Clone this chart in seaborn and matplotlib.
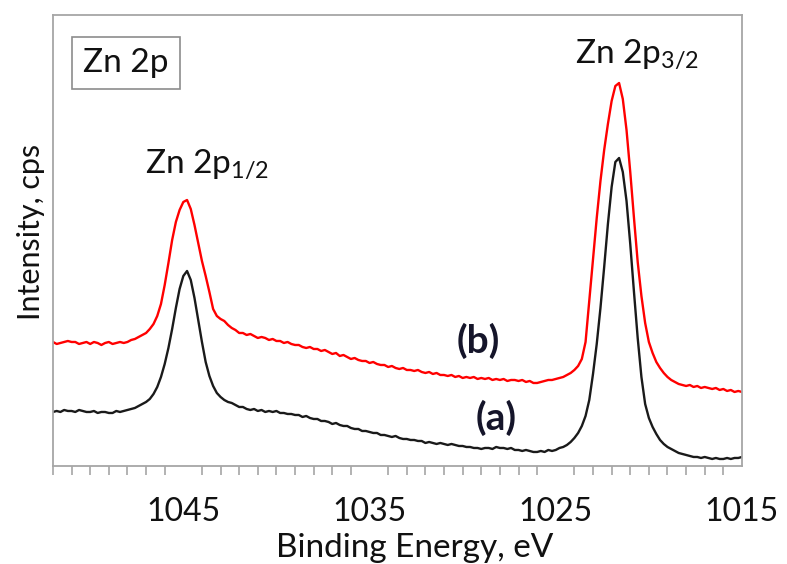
import matplotlib
matplotlib.use("Agg")
import matplotlib.pyplot as plt
from matplotlib.ticker import MultipleLocator
import pandas as pd
import seaborn as sns

# Binding energy scale of the Zn 2p region (eV), 0.2 eV steps
binding_energy = [
    1052.0, 1051.8, 1051.6, 1051.4, 1051.2, 1051.0, 1050.8, 1050.6, 1050.4, 1050.2,
    1050.0, 1049.8, 1049.6, 1049.4, 1049.2, 1049.0, 1048.8, 1048.6, 1048.4, 1048.2,
    1048.0, 1047.8, 1047.6, 1047.4, 1047.2, 1047.0, 1046.8, 1046.6, 1046.4, 1046.2,
    1046.0, 1045.8, 1045.6, 1045.4, 1045.2, 1045.0, 1044.8, 1044.6, 1044.4, 1044.2,
    1044.0, 1043.8, 1043.6, 1043.4, 1043.2, 1043.0, 1042.8, 1042.6, 1042.4, 1042.2,
    1042.0, 1041.8, 1041.6, 1041.4, 1041.2, 1041.0, 1040.8, 1040.6, 1040.4, 1040.2,
    1040.0, 1039.8, 1039.6, 1039.4, 1039.2, 1039.0, 1038.8, 1038.6, 1038.4, 1038.2,
    1038.0, 1037.8, 1037.6, 1037.4, 1037.2, 1037.0, 1036.8, 1036.6, 1036.4, 1036.2,
    1036.0, 1035.8, 1035.6, 1035.4, 1035.2, 1035.0, 1034.8, 1034.6, 1034.4, 1034.2,
    1034.0, 1033.8, 1033.6, 1033.4, 1033.2, 1033.0, 1032.8, 1032.6, 1032.4, 1032.2,
    1032.0, 1031.8, 1031.6, 1031.4, 1031.2, 1031.0, 1030.8, 1030.6, 1030.4, 1030.2,
    1030.0, 1029.8, 1029.6, 1029.4, 1029.2, 1029.0, 1028.8, 1028.6, 1028.4, 1028.2,
    1028.0, 1027.8, 1027.6, 1027.4, 1027.2, 1027.0, 1026.8, 1026.6, 1026.4, 1026.2,
    1026.0, 1025.8, 1025.6, 1025.4, 1025.2, 1025.0, 1024.8, 1024.6, 1024.4, 1024.2,
    1024.0, 1023.8, 1023.6, 1023.4, 1023.2, 1023.0, 1022.8, 1022.6, 1022.4, 1022.2,
    1022.0, 1021.8, 1021.6, 1021.4, 1021.2, 1021.0, 1020.8, 1020.6, 1020.4, 1020.2,
    1020.0, 1019.8, 1019.6, 1019.4, 1019.2, 1019.0, 1018.8, 1018.6, 1018.4, 1018.2,
    1018.0, 1017.8, 1017.6, 1017.4, 1017.2, 1017.0, 1016.8, 1016.6, 1016.4, 1016.2,
    1016.0, 1015.8, 1015.6, 1015.4, 1015.2, 1015.0,
]

# Spectrum (a), arbitrary cps units
intensity_a = [
    54, 55, 54, 56, 55, 55, 54, 56, 55, 54,
    54, 55, 53, 54, 54, 53, 53, 55, 54, 55,
    56, 57, 58, 60, 62, 64, 67, 72, 79, 89,
    102, 118, 137, 158, 177, 190, 195, 186, 168, 146,
    124, 104, 90, 80, 73, 69, 66, 64, 63, 61,
    59, 59, 57, 56, 57, 55, 56, 54, 55, 54,
    55, 53, 53, 52, 52, 51, 51, 49, 50, 48,
    47, 47, 45, 45, 44, 42, 43, 41, 40, 40,
    38, 37, 37, 35, 35, 34, 33, 33, 31, 31,
    30, 29, 30, 28, 27, 27, 26, 26, 25, 25,
    23, 24, 23, 22, 23, 22, 21, 22, 21, 20,
    20, 19, 19, 18, 18, 17, 18, 18, 17, 19,
    18, 18, 17, 18, 16, 16, 15, 16, 15, 14,
    14, 15, 14, 16, 15, 16, 18, 19, 21, 24,
    28, 33, 40, 50, 66, 92, 122, 158, 199, 242,
    279, 304, 308, 294, 265, 222, 174, 128, 89, 62,
    48, 39, 32, 26, 22, 19, 17, 15, 13, 12,
    11, 10, 9, 9, 8, 9, 8, 7, 8, 7,
    7, 8, 7, 8, 8, 9,
]

# Spectrum (b), arbitrary cps units
intensity_b = [
    124, 122, 123, 124, 125, 124, 124, 122, 123, 124,
    122, 124, 123, 121, 123, 124, 122, 123, 124, 123,
    124, 126, 127, 129, 131, 133, 137, 142, 150, 162,
    181, 203, 226, 244, 256, 264, 266, 257, 241, 223,
    205, 190, 174, 157, 150, 147, 145, 141, 138, 136,
    133, 133, 131, 132, 130, 128, 129, 128, 126, 127,
    125, 125, 123, 124, 122, 121, 121, 119, 118, 119,
    117, 117, 115, 116, 114, 112, 113, 110, 111, 109,
    107, 108, 106, 105, 105, 103, 104, 102, 101, 101,
    99, 100, 98, 97, 98, 96, 96, 95, 96, 94,
    93, 94, 92, 93, 91, 91, 90, 91, 89, 90,
    88, 89, 88, 89, 87, 88, 87, 88, 86, 87,
    86, 87, 85, 86, 86, 85, 86, 84, 85, 83,
    83, 84, 85, 86, 86, 87, 88, 89, 91, 93,
    96, 100, 107, 124, 165, 205, 248, 285, 316, 342,
    365, 380, 383, 367, 336, 294, 248, 204, 170, 143,
    124, 113, 104, 98, 93, 89, 86, 84, 82, 81,
    80, 81, 79, 80, 78, 79, 78, 77, 78, 76,
    77, 75, 76, 74, 75, 74,
]

sample_labels = ["(a)", "(b)"]
line_colors = {"(a)": "#1a1a1a", "(b)": "#ff0000"}
major_ticks = [1045, 1035, 1025, 1015]

spectra = pd.concat(
    [
        pd.DataFrame({"be": binding_energy, "cps": intensity_a, "sample": sample_labels[0]}),
        pd.DataFrame({"be": binding_energy, "cps": intensity_b, "sample": sample_labels[1]}),
    ],
    ignore_index=True,
)

sns.set_style("white")
plt.rcParams["font.family"] = ["Lato", "DejaVu Sans"]
plt.rcParams["mathtext.fontset"] = "custom"
plt.rcParams["mathtext.rm"] = "Lato"
plt.rcParams["mathtext.it"] = "Lato:italic"
plt.rcParams["mathtext.bf"] = "Lato:bold"

fig = plt.figure(figsize=(7.87, 5.64), dpi=100)
ax = fig.add_axes([0.0673, 0.1738, 0.8755, 0.7996])

sns.lineplot(
    data=spectra, x="be", y="cps", hue="sample", palette=line_colors,
    linewidth=1.7, legend=False, ax=ax, sort=False, estimator=None,
)

ax.set_xlim(1052.0, 1015.0)
ax.set_ylim(0, 451)

spine_color = "#a6a6a6"
for side in ["left", "right", "top", "bottom"]:
    ax.spines[side].set_visible(True)
    ax.spines[side].set_color(spine_color)
    ax.spines[side].set_linewidth(1.3)

ax.set_xticks(major_ticks)
ax.xaxis.set_minor_locator(MultipleLocator(1))
ax.tick_params(axis="x", which="major", direction="inout", length=14, width=1.2,
               color="#8c8c8c", labelsize=23, pad=15, labelcolor="#111111")
ax.tick_params(axis="x", which="minor", direction="out", length=6.5, width=1.2,
               color=spine_color, bottom=True)
ax.set_yticks([])

ax.set_xlabel("Binding Energy, eV", fontsize=24, color="#111111")
ax.xaxis.set_label_coords(0.525, -0.148)
ax.set_ylabel("Intensity, cps", fontsize=22, color="#111111")
ax.yaxis.set_label_coords(-0.012, 0.519)

ax.text(0.0435, 0.8736, "Zn 2p", transform=ax.transAxes, fontsize=24,
        color="#111111", ha="left", va="baseline",
        bbox=dict(boxstyle="square,pad=0.34", facecolor="white",
                  edgecolor="#8c8c8c", linewidth=1.2))
ax.text(0.1335, 0.650, r"Zn 2p$_{\mathrm{1/2}}$", transform=ax.transAxes,
        fontsize=24, color="#111111", ha="left", va="baseline")
ax.text(0.7576, 0.8936, r"Zn 2p$_{\mathrm{3/2}}$", transform=ax.transAxes,
        fontsize=24, color="#111111", ha="left", va="baseline")

ax.text(0.6168, 0.2772, "(b)", transform=ax.transAxes, fontsize=28,
        fontweight="bold", color="#15152a", ha="center", va="center")
ax.text(0.643, 0.1064, "(a)", transform=ax.transAxes, fontsize=28,
        fontweight="bold", color="#15152a", ha="center", va="center")

fig.savefig("out.png", dpi=100)
